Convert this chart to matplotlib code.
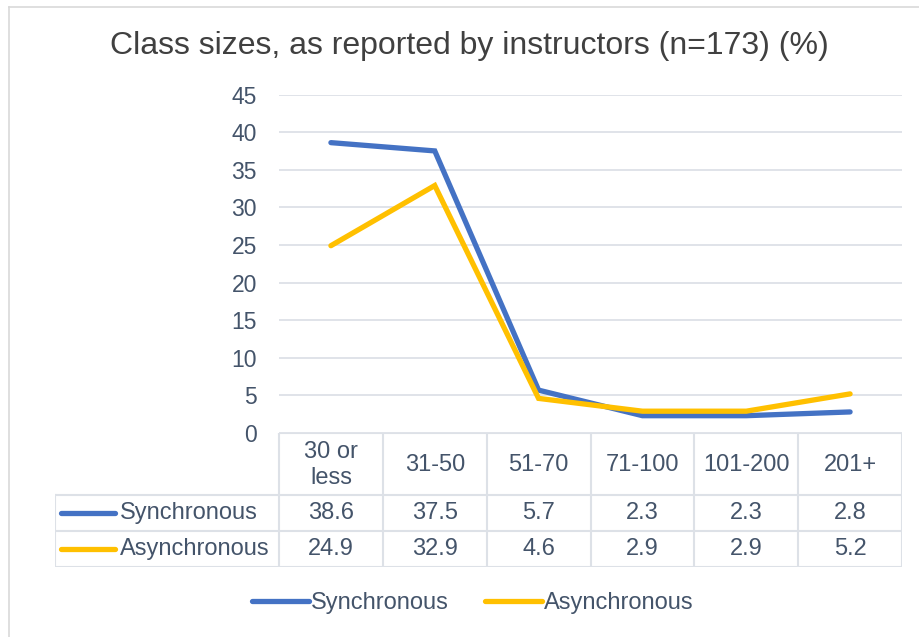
import matplotlib
matplotlib.use('Agg')
import matplotlib.pyplot as plt
from matplotlib.lines import Line2D
import numpy as np

plt.rcParams['font.family'] = ['Liberation Sans', 'DejaVu Sans']

# ---- data ----
categories = ['30 or\nless', '31-50', '51-70', '71-100', '101-200', '201+']
series_names = ['Synchronous', 'Asynchronous']
sync = [38.6, 37.5, 5.7, 2.3, 2.3, 2.8]
asyn = [24.9, 32.9, 4.6, 2.9, 2.9, 5.2]
yticks = [0, 5, 10, 15, 20, 25, 30, 35, 40, 45]
title = 'Class sizes, as reported by instructors (n=173) (%)'

colors = ['#4472C4', '#FFC000']
txt_col = '#44546A'
grid_col = '#DDE1E7'

W, H = 920, 637
fig = plt.figure(figsize=(W / 100, H / 100), dpi=100)


def frac(x0, y0, x1, y1):
    # pixel box (top-left origin) -> figure fraction rect
    return [x0 / W, 1 - y1 / H, (x1 - x0) / W, (y1 - y0) / H]


# chart border (cut at right / bottom)
fig.add_artist(Line2D([9 / W, 9 / W], [0, 1 - 7 / H], color='#D9D9D9', lw=1.2))
fig.add_artist(Line2D([9 / W, 1], [1 - 7 / H, 1 - 7 / H], color='#D9D9D9', lw=1.2))

fig.text(469 / W, 1 - 46 / H, title, ha='center', va='center',
         fontsize=23, color='#404040')

# ---- plot area ----
ax = fig.add_axes(frac(279, 94.5, 902, 433))
x = np.arange(len(categories))
lines = []
for vals, c, name in zip([sync, asyn], colors, series_names):
    l, = ax.plot(x, vals, color=c, lw=3.8, solid_capstyle='round',
                 solid_joinstyle='miter', label=name)
    lines.append(l)
ax.set_xlim(-0.5, len(categories) - 0.5)
ax.set_ylim(0, 45)
ax.set_yticks(yticks)
ax.set_xticks([])
ax.tick_params(axis='y', length=0, pad=16, labelsize=16.5, labelcolor=txt_col)
ax.grid(axis='y', color=grid_col, lw=1.3)
ax.set_axisbelow(True)
for s in ax.spines.values():
    s.set_visible(False)

# ---- data table ----
tl, tr, tt, tb = 55, 902, 433, 567
colw = (902 - 279) / len(categories)
lab_w = (279 - tl) / colw
tab = fig.add_axes(frac(tl, tt, tr, tb))
tab.set_xlim(-0.5 - lab_w, len(categories) - 0.5)
tab.set_ylim(tb - tt, 0)
tab.axis('off')
row_edges = [0, 62, 98, 134]
xl = -0.5 - lab_w
# horizontal lines
tab.plot([-0.5, len(categories) - 0.5], [0, 0], color=grid_col, lw=1.5)
for yy in row_edges[1:]:
    tab.plot([xl, len(categories) - 0.5], [yy, yy], color=grid_col, lw=1.5)
# vertical lines
for k in range(len(categories) + 1):
    tab.plot([k - 0.5, k - 0.5], [0, row_edges[-1]], color=grid_col, lw=1.5)
tab.plot([xl, xl], [row_edges[1], row_edges[-1]], color=grid_col, lw=1.5)

for i, cat in enumerate(categories):
    tab.text(i, (row_edges[0] + row_edges[1]) / 2 + 1, cat, ha='center', va='center',
             fontsize=17, color=txt_col, linespacing=1.2)
for r, (vals, c, name) in enumerate(zip([sync, asyn], colors, series_names)):
    yc = (row_edges[r + 1] + row_edges[r + 2]) / 2
    tab.plot([xl + 6 / colw, xl + 60 / colw], [yc, yc], color=c, lw=3.8,
             solid_capstyle='round')
    tab.text(xl + 65 / colw, yc, name, ha='left', va='center', fontsize=17,
             color=txt_col)
    for i, v in enumerate(vals):
        tab.text(i, yc, f'{v:.1f}', ha='center', va='center', fontsize=17,
                 color=txt_col)

# ---- legend ----
fig.legend(handles=lines, loc='center', bbox_to_anchor=(473 / W, 1 - 603 / H),
           ncol=2, frameon=False, fontsize=17, handlelength=2.4,
           handletextpad=0.1, columnspacing=1.55, labelcolor=txt_col)

fig.savefig('out.png', dpi=100)
